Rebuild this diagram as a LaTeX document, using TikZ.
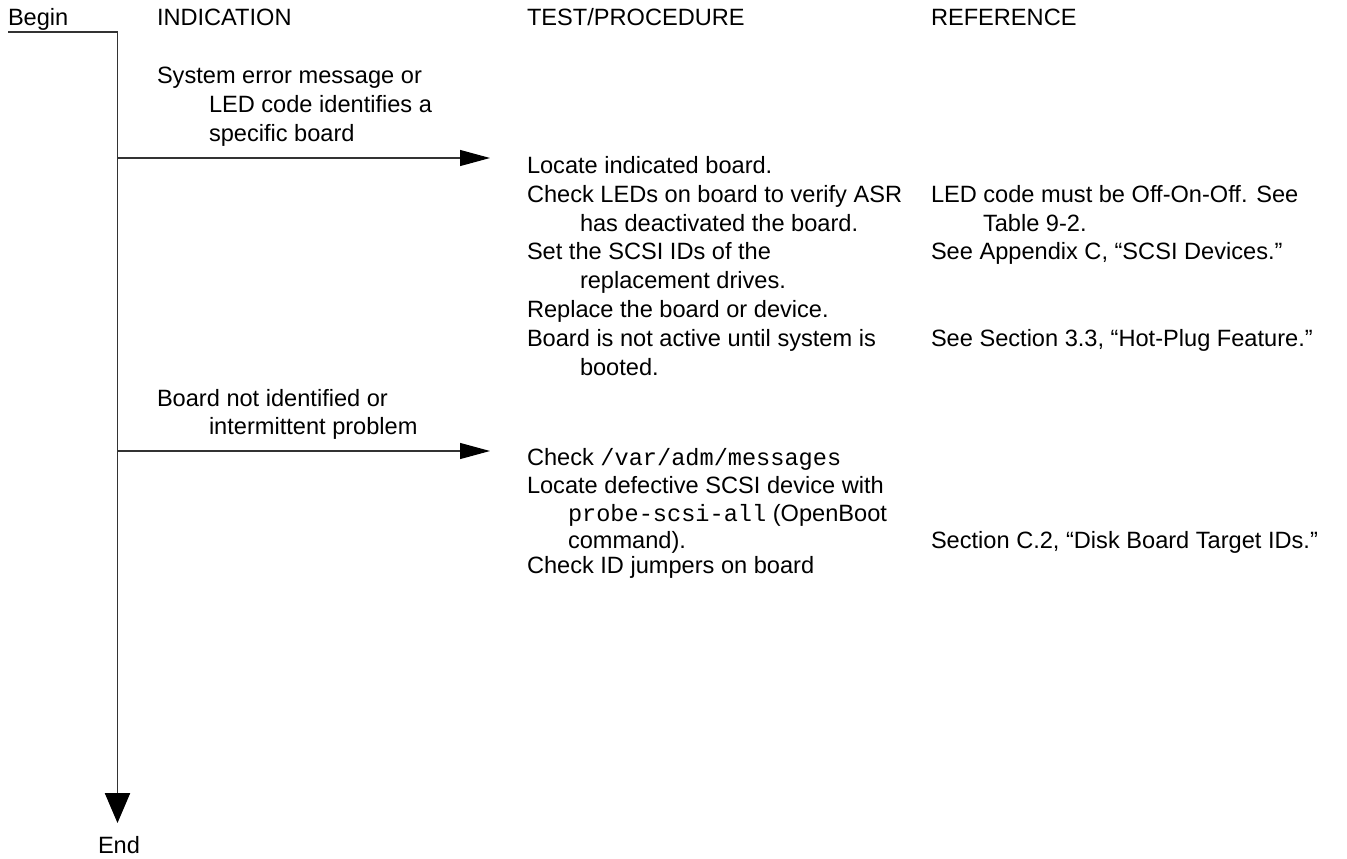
\documentclass[tikz,border=0pt]{standalone}
\usepackage{fontspec}
\setmainfont{Liberation Sans}
\setmonofont{Liberation Mono}
\usetikzlibrary{arrows.meta}
\newcommand\diagfont{\fontsize{17.7pt}{21pt}\selectfont}
\tikzset{
  txt/.style={anchor=base west, inner sep=0pt, outer sep=0pt, font=\diagfont},
  conn/.style={line width=0.8pt, draw=black!80},
  harrow/.style={conn, -{Triangle[length=22.5pt, width=12pt, color=black]}},
  varrow/.style={conn, -{Triangle[length=22.5pt, width=19pt, color=black]}},
}
\begin{document}
\begin{tikzpicture}[x=0.75pt, y=-0.75pt]
\useasboundingbox (0,0) rectangle (1347,858);
% headers
\node[txt] (begin) at (8,25) {Begin};
\node[txt] (hind) at (157,25) {INDICATION};
\node[txt] (htest) at (527,25) {TEST/PROCEDURE};
\node[txt] (href) at (931,25) {REFERENCE};
% trunk
\coordinate (b0) at (8,32);
\coordinate (b1) at (117.5,32);
\coordinate (tend) at (117.5,823);
\draw[varrow] (b0) -- (b1) -- (tend);
\node[txt] (end) at (98,853) {End};
% indication 1
\node[txt] (i1a) at (157,83) {System error message or};
\node[txt] (i1b) at (209,112) {LED code identifies a};
\node[txt] (i1c) at (209,141) {specific board};
\coordinate (a1s) at (117.5,158);
\coordinate (a1e) at (490,158);
\draw[harrow] (a1s) -- (a1e);
% test 1
\node[txt] (t1a) at (527,173) {Locate indicated board.};
\node[txt] (t1b) at (527,202) {Check LEDs on board to verify ASR};
\node[txt] (t1c) at (580,231) {has deactivated the board.};
\node[txt] (t1d) at (527,259) {Set the SCSI IDs of the};
\node[txt] (t1e) at (580,288) {replacement drives.};
\node[txt] (t1f) at (527,317) {Replace the board or device.};
\node[txt] (t1g) at (527,346) {Board is not active until system is};
\node[txt] (t1h) at (580,375) {booted.};
% reference 1
\node[txt] (r1a) at (931,202) {LED code must be Off-On-Off. See};
\node[txt] (r1b) at (983,231) {Table 9-2.};
\node[txt] (r1c) at (931,259) {See Appendix C, “SCSI Devices.”};
\node[txt] (r1d) at (931,346) {See Section 3.3, “Hot-Plug Feature.”};
% indication 2
\node[txt] (i2a) at (157,406) {Board not identified or};
\node[txt] (i2b) at (209,434) {intermittent problem};
\coordinate (a2s) at (117.5,451);
\coordinate (a2e) at (490,451);
\draw[harrow] (a2s) -- (a2e);
% test 2
\node[txt] (t2a) at (527,465) {Check \texttt{/var/adm/messages}};
\node[txt] (t2b) at (527,493) {Locate defective SCSI device with};
\node[txt] (t2c) at (568,521) {\texttt{probe-scsi-all} (OpenBoot};
\node[txt] (t2d) at (568,548) {command).};
\node[txt] (t2e) at (527,573) {Check ID jumpers on board};
% reference 2
\node[txt] (r2a) at (931,548) {Section C.2, “Disk Board Target IDs.”};
\end{tikzpicture}
\end{document}
